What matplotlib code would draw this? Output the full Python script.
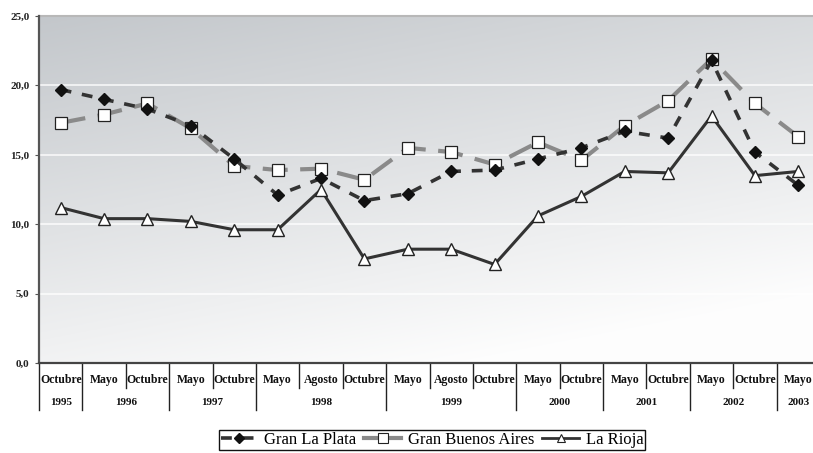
import numpy as np
import matplotlib.pyplot as plt
from matplotlib.lines import Line2D
from matplotlib.font_manager import FontProperties
import matplotlib.transforms as mtransforms

# Periodos de la encuesta (onda y año)
meses = ["Octubre", "Mayo", "Octubre", "Mayo", "Octubre", "Mayo", "Agosto", "Octubre",
         "Mayo", "Agosto", "Octubre", "Mayo", "Octubre", "Mayo", "Octubre", "Mayo",
         "Octubre", "Mayo"]
anios = ["1995", "1996", "1996", "1997", "1997", "1998", "1998", "1998",
         "1999", "1999", "1999", "2000", "2000", "2001", "2001", "2002", "2002", "2003"]

gran_la_plata = [19.7, 19.0, 18.3, 17.1, 14.7, 12.1, 13.3, 11.7, 12.2, 13.8,
                 13.9, 14.7, 15.5, 16.7, 16.2, 21.8, 15.2, 12.8]
gran_buenos_aires = [17.3, 17.9, 18.7, 16.9, 14.2, 13.9, 14.0, 13.2, 15.5, 15.2,
                     14.3, 15.9, 14.6, 17.1, 18.9, 21.9, 18.7, 16.3]
la_rioja = [11.2, 10.4, 10.4, 10.2, 9.6, 9.6, 12.5, 7.5, 8.2, 8.2,
            7.1, 10.6, 12.0, 13.8, 13.7, 17.8, 13.5, 13.8]

SERIF = ["Liberation Serif", "DejaVu Serif"]
plt.rcParams["font.family"] = SERIF

fig = plt.figure(figsize=(8.13, 4.53), dpi=100)
ax = fig.add_axes([39 / 813, 90 / 453, 781 / 813, 347 / 453])

n = len(meses)
x = np.arange(n)
ax.set_xlim(-0.5, n - 0.5)
ax.set_ylim(0, 25)

# fondo degradado gris -> blanco
gy, gx = np.mgrid[0:1:200j, 0:1:200j]
t = np.clip(0.8 * gy + 0.35 * gx, 0, 1)
top = np.array([0.765, 0.780, 0.796])
bot = np.array([0.995, 0.995, 0.995])
img = top[None, None, :] * (1 - t[..., None]) + bot[None, None, :] * t[..., None]
ax.imshow(img, extent=[-0.5, n - 0.5, 0, 25], origin="upper", aspect="auto", zorder=0)

for yv in [5, 10, 15, 20]:
    ax.axhline(yv, color="white", lw=1.1, alpha=0.9, zorder=1)
ax.axhline(25, color="#b8b8b8", lw=1.5, zorder=1, clip_on=False)

ax.plot(x, gran_buenos_aires, color="#8a8a8a", lw=3.0, dashes=(6, 3), zorder=3,
        marker="s", ms=9, mfc="white", mec="#222222", mew=0.9)
ax.plot(x, gran_la_plata, color="#333333", lw=2.6, dashes=(3, 3), zorder=4,
        marker="D", ms=6, mfc="#111111", mec="#111111")
ax.plot(x, la_rioja, color="#333333", lw=2.2, zorder=5,
        marker="^", ms=8.5, mfc="white", mec="#222222", mew=1.0)

ax.set_yticks([0, 5, 10, 15, 20, 25])
ax.set_yticklabels(["0,0", "5,0", "10,0", "15,0", "20,0", "25,0"],
                   fontsize=8, fontweight="bold", color="#222222")
ax.tick_params(axis="y", length=3, width=0.8, color="#555555", pad=4)
ax.set_xticks([])

for s in ["top", "right"]:
    ax.spines[s].set_visible(False)
ax.spines["left"].set_color("#555555")
ax.spines["left"].set_linewidth(1.6)
ax.spines["bottom"].set_color("#444444")
ax.spines["bottom"].set_linewidth(1.6)

# tabla de meses / años bajo el eje
trans = mtransforms.blended_transform_factory(ax.transData, ax.transAxes)
y_mes = -0.049
y_anio = -0.115
y_corto = -0.072
y_largo = -0.135
for i, m in enumerate(meses):
    ax.text(i, y_mes, m, transform=trans, ha="center", va="center",
            fontsize=8.5, fontweight="bold", color="#111111", clip_on=False)

# agrupar años
grupos = []
inicio = 0
for i in range(1, n + 1):
    if i == n or anios[i] != anios[inicio]:
        grupos.append((inicio, i - 1, anios[inicio]))
        inicio = i
for a, b, label in grupos:
    ax.text((a + b) / 2, y_anio, label, transform=trans, ha="center", va="center",
            fontsize=8, fontweight="bold", color="#111111", clip_on=False)

bordes_anio = {a for a, b, _ in grupos}
for i in range(n):
    y_fin = y_largo if i in bordes_anio else y_corto
    ax.add_line(Line2D([i - 0.5, i - 0.5], [0, y_fin], transform=trans,
                       color="#222222", lw=1.0, clip_on=False))

handles = [
    Line2D([], [], color="#333333", lw=2.6, dashes=(3, 3), marker="D", ms=5,
           mfc="#111111", mec="#111111"),
    Line2D([], [], color="#8a8a8a", lw=3.0, marker="s", ms=7, mfc="white",
           mec="#222222", mew=0.8),
    Line2D([], [], color="#333333", lw=2.0, marker="^", ms=6, mfc="white",
           mec="#222222", mew=0.8),
]
fig.legend(handles, ["Gran La Plata", "Gran Buenos Aires", "La Rioja"],
           loc="center", bbox_to_anchor=(432 / 813, 1 - 440 / 453), ncol=3,
           frameon=True, fancybox=False, edgecolor="#111111", framealpha=1,
           prop=FontProperties(family="Liberation Serif", size=12),
           handlelength=2.2, handletextpad=0.4, columnspacing=0.5, borderpad=0.1)

fig.savefig("out.png", dpi=100)
